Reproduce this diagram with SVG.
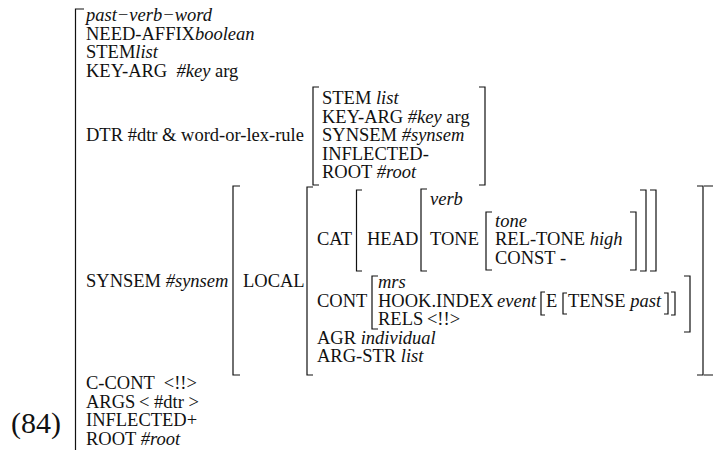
<svg xmlns="http://www.w3.org/2000/svg" width="713" height="450" viewBox="0 0 713 450">
<style>
  text { font-family: "Liberation Serif", "Times New Roman", serif; font-size: 18.5px; fill: #111; }
  .i { font-style: italic; }
  .num { font-size: 30px; }
  .br { fill: none; stroke: #111; stroke-width: 1.2; }
</style>
<rect width="713" height="450" fill="#fff"/>

<!-- example number -->
<text id="label" class="num" x="11" y="433">(84)</text>

<!-- bracket lines of the attribute-value matrix -->
<g id="brackets">
  <path class="br" d="M84 9 H75.5 V450"/>
  <!-- DTR value -->
  <path class="br" d="M319 87 H313 V185 H319"/>
  <path class="br" d="M479 87 H485 V185 H479"/>
  <!-- SYNSEM value -->
  <path class="br" d="M240 186 H233 V375 H240"/>
  <path class="br" d="M704 186 H714 V375 H704"/>
  <!-- LOCAL value -->
  <path class="br" d="M313 187 H307 V375 H313"/>
  <path class="br" d="M697 186 H703 V375 H697"/>
  <!-- CAT value -->
  <path class="br" d="M362 190 H356.5 V271 H362"/>
  <path class="br" d="M650 190 H656 V271 H650"/>
  <!-- HEAD value -->
  <path class="br" d="M427 189 H421 V271 H427"/>
  <path class="br" d="M640 190 H646 V271 H640"/>
  <!-- TONE value -->
  <path class="br" d="M492 212 H486 V270 H492"/>
  <path class="br" d="M630 212 H636 V270 H630"/>
  <!-- CONT value -->
  <path class="br" d="M378 276 H372 V329 H378"/>
  <path class="br" d="M684 276 H690 V332 H684"/>
  <!-- INDEX value [E [TENSE past]] -->
  <path class="br" d="M545 292 H541 V315 H545"/>
  <path class="br" d="M567 293 H563 V314 H567"/>
  <path class="br" d="M664 293 H668 V314 H664"/>
  <path class="br" d="M671 292 H675 V315 H671"/>
</g>

<g id="word">
  <text class="i" x="86" y="21">past−verb−word</text>
  <text x="86" y="39.5">NEED-AFFIX<tspan class="i">boolean</tspan></text>
  <text x="86" y="58">STEM<tspan class="i">list</tspan></text>
  <text x="86" y="76.5" xml:space="preserve">KEY-ARG  <tspan class="i">#key</tspan> arg</text>
  <text x="86" y="141">DTR #dtr &amp; word-or-lex-rule</text>
  <text x="86" y="286.5">SYNSEM <tspan class="i">#synsem</tspan></text>
  <text x="86" y="389" xml:space="preserve">C-CONT  &lt;!!&gt;</text>
  <text x="86" y="407.5">ARGS&#8201;&lt; #dtr &gt;</text>
  <text x="86" y="426">INFLECTED+</text>
  <text x="86" y="444.5">ROOT <tspan class="i">#root</tspan></text>
</g>

<g id="dtr">
  <text x="322" y="104">STEM <tspan class="i">list</tspan></text>
  <text x="322" y="122.5">KEY-ARG <tspan class="i">#key</tspan> arg</text>
  <text x="322" y="141">SYNSEM <tspan class="i">#synsem</tspan></text>
  <text x="322" y="159.5">INFLECTED-</text>
  <text x="322" y="178">ROOT <tspan class="i">#root</tspan></text>
</g>

<g id="synsem">
  <text x="243" y="286.5">LOCAL</text>
</g>

<g id="local">
  <text x="317" y="245">CAT</text>
  <text x="317" y="306.5">CONT</text>
  <text x="317" y="343.5">AGR <tspan class="i">individual</tspan></text>
  <text x="317" y="362">ARG-STR <tspan class="i">list</tspan></text>
</g>

<g id="cat">
  <text x="367" y="245">HEAD</text>
</g>

<g id="head">
  <text class="i" x="430" y="205">verb</text>
  <text x="430" y="245">TONE</text>
</g>

<g id="tone">
  <text class="i" x="495" y="226.5">tone</text>
  <text x="495" y="245">REL-TONE <tspan class="i">high</tspan></text>
  <text x="495" y="263.5">CONST -</text>
</g>

<g id="cont">
  <text class="i" x="378" y="288">mrs</text>
  <text x="378" y="306.5">HOOK.INDEX<tspan class="i" x="497">event</tspan></text>
  <text x="546" y="306.5">E</text>
  <text x="568" y="306.5">TENSE <tspan class="i">past</tspan></text>
  <text x="378" y="325">RELS&#8201;&lt;!!&gt;</text>
</g>
</svg>
